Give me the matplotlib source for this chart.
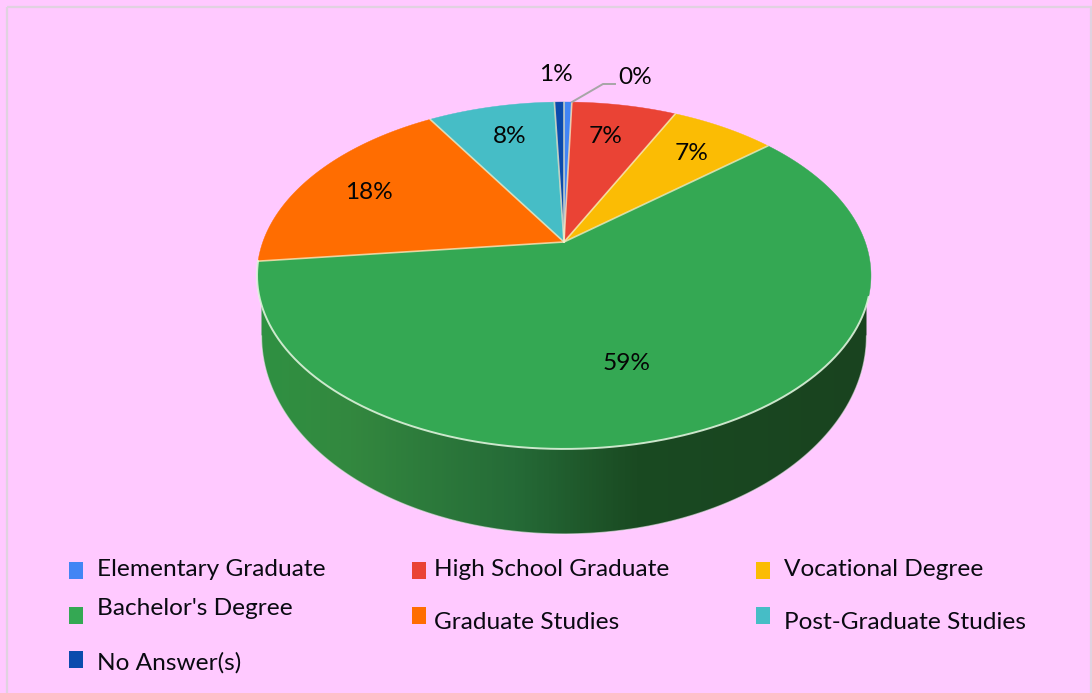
import numpy as np
import matplotlib
matplotlib.use("Agg")
import matplotlib.pyplot as plt
from matplotlib.patches import Polygon, Rectangle
from matplotlib.colors import LinearSegmentedColormap

plt.rcParams['font.family'] = ['Lato', 'DejaVu Sans']

# ---- data -------------------------------------------------------------
categories = ["Elementary Graduate", "High School Graduate", "Vocational Degree",
              "Bachelor's Degree", "Graduate Studies", "Post-Graduate Studies",
              "No Answer(s)"]
values = [0.49, 6.6, 6.6, 59.0, 18.0, 8.0, 0.6]
pct_labels = ["0%", "7%", "7%", "59%", "18%", "8%", "1%"]
colors = ["#4285F4", "#EA4335", "#FBBC04", "#34A853", "#FF6D01", "#46BDC6", "#0B4BAD"]

# ---- layout (pixels) ---------------------------------------------------
W, H = 1092, 693
BG = "#FFC9FF"
cx, cy = 564.0, 242.0      # apex of the pie on screen
a, b, p = 301.2, 167.0, 0.193   # perspective disc
label_xy = [(635, 77.5), (606, 136.5), (692, 153.5), (627, 363.5), (369, 192.5), (510, 136.5), (556, 74.5)]
legend_marker_xy = [(69, 562), (412, 562), (756, 562), (69, 607), (412, 607), (756, 607), (69, 651)]
legend_text_xy = [(97, 569.5), (434.5, 569.5), (783.5, 569.5), (97, 608.5), (434.5, 622.5), (783.5, 622.5), (97, 662.5)]
FS = 17.6


def disc(theta):
    """Clockwise-from-top angle (radians) to a screen point on the perspective disc."""
    x, y = np.sin(theta), np.cos(theta)
    d = 1 + p * y
    return cx + a * x / d, cy - b * y / d


fig = plt.figure(figsize=(W / 100, H / 100), dpi=100, facecolor=BG)
ax = fig.add_axes([0, 0, 1, 1])
ax.set_facecolor(BG)
ax.axis("off")

# frame
ax.add_patch(Rectangle((7, 7), W - 8, H, fill=False, ec="#E0D2E0", lw=1.6, zorder=1))

# ---- side wall with its horizontal shade ---------------------------------
t = np.linspace(0, np.pi, 240)
lo_x = 564 + 302.5 * np.cos(t)
lo_y = 336 + 198 * np.sin(t)
side_pts = np.r_[[[866.5, 300]], np.c_[lo_x, lo_y], [[261.5, 300]], [[564, 300]]]
side = Polygon(side_pts, closed=True, fc="none", ec="none")
ax.add_patch(side)
shade = LinearSegmentedColormap.from_list("shade", [
    (0.00, "#2F9142"), (0.15, "#33883F"), (0.42, "#256B37"),
    (0.62, "#1A4A22"), (1.00, "#19431F")])
im = ax.imshow(np.linspace(0, 1, 610)[None, :], extent=(258, 868, 540, 290),
               aspect="auto", cmap=shade, zorder=2, interpolation="bilinear")
im.set_clip_path(side)
ax.plot(lo_x, lo_y, color="#F4E6F4", lw=0.9, alpha=0.6, zorder=3)

# ---- slices -----------------------------------------------------------
vals = np.asarray(values, dtype=float)
edges = np.r_[0, np.cumsum(vals)] / vals.sum() * 2 * np.pi
for i, col in enumerate(colors):
    th = np.linspace(edges[i], edges[i + 1], max(4, int((edges[i + 1] - edges[i]) * 90)))
    px, py = disc(th)
    ax.add_patch(Polygon(np.r_[[[cx, cy]], np.c_[px, py]], closed=True, fc=col,
                         ec=col, lw=0.3, zorder=4))
for e in edges[:-1]:
    ex, ey = disc(e)
    ax.plot([cx, ex], [cy, ey], color="#F6EFC8", lw=1.2, alpha=0.75, zorder=5,
            solid_capstyle="round")
th = np.linspace(edges[3], edges[4], 400)
th = th[th > np.pi * 0.60]
rx, ry = disc(th)
ax.plot(rx, ry, color="#E8F7E4", lw=1.4, alpha=0.85, zorder=5)

# ---- data labels --------------------------------------------------------
for s, (x, y) in zip(pct_labels, label_xy):
    ax.text(x, y, s, ha="center", va="center", fontsize=FS, color="#050505", zorder=7)
ax.plot([572, 603, 615], [102, 84, 84], color="#A6A6A6", lw=1.4, zorder=6)

# ---- legend --------------------------------------------------------------
for name, col, (mx, my), (tx, ty) in zip(categories, colors, legend_marker_xy, legend_text_xy):
    ax.add_patch(Rectangle((mx, my), 14, 17, fc=col, ec="none", zorder=6))
    ax.text(tx, ty, name, ha="left", va="center", fontsize=FS, color="#0A0A12", zorder=7)

ax.set_xlim(0, W)
ax.set_ylim(H, 0)
fig.savefig("out.png", dpi=100, facecolor=BG)
